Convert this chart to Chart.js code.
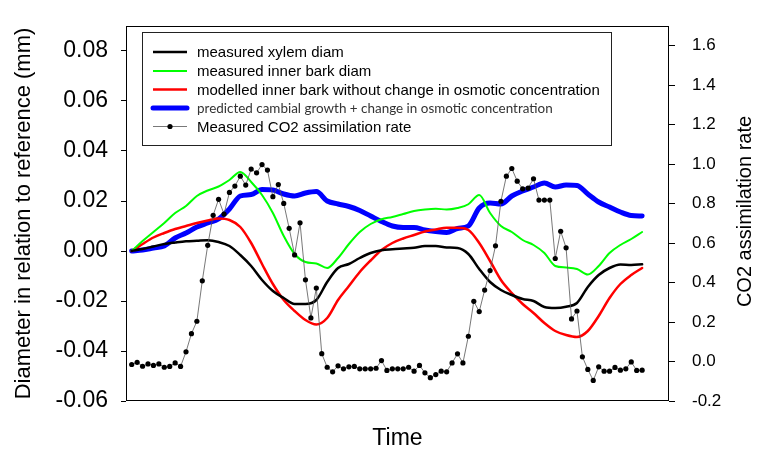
<!DOCTYPE html>
<html>
<head>
<meta charset="utf-8">
<script src="https://cdn.jsdelivr.net/npm/chart.js@4.4.1/dist/chart.umd.min.js"></script>
<style>
  html, body { margin: 0; padding: 0; background: #fff; }
</style>
</head>
<body>
<canvas id="chart" width="767" height="450"></canvas>
<script>
const FONT = 'Arial, "Liberation Sans", sans-serif'

// time in hours, CO2 logged every half hour
const co2Time = [0,0.5,1,1.5,2,2.5,3,3.5,4,4.5,5,5.5,6,6.5,7,7.5,8,8.5,9,9.5,
  10,10.5,11,11.5,12,12.5,13,13.5,14,14.5,15,15.5,16,16.5,17,17.5,18,18.5,19,19.5,
  20,20.5,21,21.5,22,22.5,23,23.5,24,24.5,25,25.5,26,26.5,27,27.5,28,28.5,29,29.5,
  30,30.5,31,31.5,32,32.5,33,33.5,34,34.5,35,35.5,36,36.5,37,37.5,38,38.5,39,39.5,
  40,40.5,41,41.5,42,42.5,43,43.5,44,44.5,45,45.5,46,46.5,47]
const co2 = [-0.015,-0.004,-0.024,-0.012,-0.020,-0.012,-0.029,-0.025,-0.007,-0.025,
  0.049,0.141,0.204,0.409,0.589,0.741,0.822,0.747,0.857,0.889,
  0.939,0.894,0.975,0.956,0.998,0.970,0.835,0.897,0.801,0.675,
  0.540,0.703,0.414,0.221,0.372,0.040,-0.029,-0.052,-0.022,-0.037,
  -0.027,-0.025,-0.037,-0.037,-0.037,-0.034,0.005,-0.045,-0.037,-0.037,
  -0.037,-0.029,-0.049,-0.020,-0.057,-0.082,-0.066,-0.049,-0.052,-0.007,
  0.039,-0.007,0.128,0.305,0.253,0.362,0.461,0.586,0.812,0.939,
  0.978,0.914,0.875,0.879,0.926,0.818,0.818,0.818,0.522,0.660,
  0.576,0.216,0.256,0.024,-0.040,-0.096,-0.027,-0.049,-0.049,-0.030,
  -0.044,-0.037,-0.002,-0.045,-0.044]

// diameter series, hourly
const diamTime = [0,1,2,3,4,5,6,7,8,9,10,11,12,13,14,15,16,17,18,19,20,21,22,23,
  24,25,26,27,28,29,30,31,32,33,34,35,36,37,38,39,40,41,42,43,44,45,46,47]
const xylem = [0,0.0008,0.0018,0.0028,0.0034,0.0039,0.0041,0.0043,0.0036,0.002,
  -0.0016,-0.006,-0.0116,-0.016,-0.0188,-0.0212,-0.0212,-0.0196,-0.0124,-0.0068,
  -0.0052,-0.0028,-0.0008,0.0003,0.0007,0.001,0.0013,0.002,0.002,0.0014,
  0.0012,-0.0012,-0.0072,-0.0124,-0.0156,-0.0176,-0.0192,-0.02,-0.0224,-0.0228,
  -0.0223,-0.0208,-0.0144,-0.0096,-0.0068,-0.0054,-0.0056,-0.0053]
const innerBark = [0,0.004,0.0076,0.0112,0.0152,0.018,0.022,0.0242,0.0258,0.0284,
  0.0316,0.0276,0.0224,0.0152,0.006,-0.0012,-0.0044,-0.005,-0.0068,-0.0028,
  0.0028,0.0076,0.0108,0.0127,0.0136,0.0148,0.016,0.0166,0.0169,0.0166,
  0.0172,0.0187,0.0224,0.0152,0.01,0.0076,0.0044,0.0024,-0.0008,-0.006,
  -0.0066,-0.0072,-0.0094,-0.006,-0.0008,0.0024,0.0048,0.0076]
const modelled = [0,0.0028,0.0054,0.0072,0.0088,0.01,0.0112,0.0122,0.013,0.0124,
  0.0096,0.0032,-0.0052,-0.0132,-0.0196,-0.024,-0.0276,-0.0294,-0.0268,-0.0196,
  -0.014,-0.0084,-0.0038,0.0004,0.0032,0.005,0.0064,0.0078,0.0086,0.0093,
  0.0093,0.0084,0.0032,-0.004,-0.0116,-0.0168,-0.0212,-0.0248,-0.0288,-0.032,
  -0.0336,-0.0344,-0.032,-0.026,-0.0188,-0.0132,-0.0096,-0.0068]
const predicted = [0,0.0004,0.0012,0.002,0.0052,0.0072,0.0096,0.0112,0.0128,0.0168,
  0.022,0.0226,0.0246,0.0244,0.0228,0.022,0.0232,0.0238,0.02,0.0188,
  0.0178,0.0162,0.014,0.0118,0.01,0.0094,0.0094,0.0084,0.0078,0.0074,
  0.009,0.01,0.0172,0.0192,0.0188,0.022,0.024,0.0256,0.0272,0.0256,
  0.0264,0.0262,0.0228,0.0196,0.0176,0.0156,0.0142,0.014]

const diamTicks = [-0.06,-0.04,-0.02,0,0.02,0.04,0.06,0.08]
const co2Ticks = [-0.2,0,0.2,0.4,0.6,0.8,1.0,1.2,1.4,1.6]

const pts = (xs, ys) => xs.map((x, i) => ({x: x, y: ys[i]}))

function diamLine(label, data, color, width) {
    return {
        label: label,
        data: pts(diamTime, data),
        yAxisID: 'y',
        borderColor: color,
        borderWidth: width,
        pointRadius: 0,
        cubicInterpolationMode: 'monotone',
        borderJoinStyle: 'round',
        borderCapStyle: 'round',
        order: 1
    }
}

// legend + frame + right title drawn by hand (mixed fonts, upward text)
const extras = {
    id: 'extras',
    afterDraw(chart) {
        const {ctx, chartArea: a} = chart
        ctx.save()
        ctx.strokeStyle = '#000'
        ctx.lineWidth = 1
        ctx.strokeRect(a.left + 0.5, a.top + 0.5, a.right - a.left - 1, a.bottom - a.top - 1)

        // legend box
        ctx.fillStyle = '#fff'
        ctx.fillRect(142, 32, 469, 113)
        ctx.strokeStyle = '#222'
        ctx.strokeRect(142.5, 32.5, 469, 113)

        const rows = [52, 71, 89.5, 108, 126.5]
        chart.data.datasets.forEach((ds, i) => {
            const y = rows[i]
            ctx.strokeStyle = ds.borderColor
            ctx.lineWidth = ds.borderWidth
            ctx.lineCap = ds.borderWidth > 3 ? 'round' : 'butt'
            ctx.beginPath()
            ctx.moveTo(153, y)
            ctx.lineTo(187, y)
            ctx.stroke()
            if (ds.pointRadius) {
                ctx.fillStyle = '#000'
                ctx.beginPath()
                ctx.arc(170, y, 2.6, 0, Math.PI * 2)
                ctx.fill()
            }
            ctx.textBaseline = 'middle'
            ctx.textAlign = 'left'
            if (i === 3) {
                ctx.font = '14px Lato'
                const w = ctx.measureText(ds.label).width
                ctx.font = (14 * 356 / w).toFixed(2) + 'px Lato'
                ctx.fillStyle = '#333'
            } else {
                ctx.font = '15px ' + FONT
                ctx.fillStyle = '#000'
            }
            ctx.fillText(ds.label, 197, y + 1)
        })

        // right axis title, reading upwards
        ctx.translate(745, (a.top + a.bottom) / 2 - 2)
        ctx.rotate(-Math.PI / 2)
        ctx.font = '20px ' + FONT
        ctx.fillStyle = '#000'
        ctx.textAlign = 'center'
        ctx.textBaseline = 'middle'
        ctx.fillText('CO2 assimilation rate', 0, 0)
        ctx.restore()
    }
}

const ctx = document.getElementById('chart')
new Chart(ctx, {
    type: 'line',
    plugins: [extras],
    data: {
        datasets: [
            diamLine('measured xylem diam', xylem, '#000000', 2.5),
            diamLine('measured inner bark diam', innerBark, '#00ff00', 2),
            diamLine('modelled inner bark without change in osmotic concentration', modelled, '#ff0000', 2.5),
            diamLine('predicted cambial growth + change in osmotic concentration', predicted, '#0000ff', 5),
            {
                label: 'Measured CO2 assimilation rate',
                data: pts(co2Time, co2),
                yAxisID: 'y1',
                borderColor: '#555',
                borderWidth: 0.8,
                pointRadius: 2.6,
                pointBackgroundColor: '#000',
                pointBorderColor: '#000',
                pointBorderWidth: 0,
                order: 0
            }
        ]
    },
    options: {
        responsive: false,
        animation: false,
        layout: {padding: {top: 26, left: 0, right: 0, bottom: 0}},
        plugins: {
            legend: {display: false},
            tooltip: {enabled: false}
        },
        scales: {
            x: {
                type: 'linear',
                min: -0.525,
                max: 49.475,
                ticks: {display: false},
                grid: {display: false},
                border: {display: false},
                title: {display: true, text: 'Time', color: '#000', padding: 0,
                    font: {size: 23, family: FONT, lineHeight: 1}},
                afterFit: s => { s.height = 49; s.paddingLeft = 0; s.paddingRight = 0 }
            },
            y: {
                position: 'left',
                min: -0.06,
                max: 0.09,
                afterBuildTicks: s => { s.ticks = diamTicks.map(v => ({value: v})) },
                ticks: {callback: v => v.toFixed(2), color: '#000', padding: 13,
                    font: {size: 23, family: FONT}},
                grid: {drawOnChartArea: false, tickLength: 5, color: '#000'},
                border: {display: false},
                title: {display: true, text: 'Diameter in relation to reference (mm)', color: '#000',
                    padding: {top: 11, bottom: 0}, font: {size: 22, family: FONT}},
                afterFit: s => { s.width = 126; s.paddingTop = 0; s.paddingBottom = 0 }
            },
            y1: {
                position: 'right',
                min: -0.2,
                max: 1.7,
                afterBuildTicks: s => { s.ticks = co2Ticks.map(v => ({value: v})) },
                ticks: {callback: v => v.toFixed(1), color: '#000', padding: 17,
                    font: {size: 17, family: FONT}},
                grid: {drawOnChartArea: false, tickLength: 6, color: '#000'},
                border: {display: false},
                afterFit: s => { s.width = 98; s.paddingTop = 0; s.paddingBottom = 0 }
            }
        }
    }
})
</script>
</body>
</html>
